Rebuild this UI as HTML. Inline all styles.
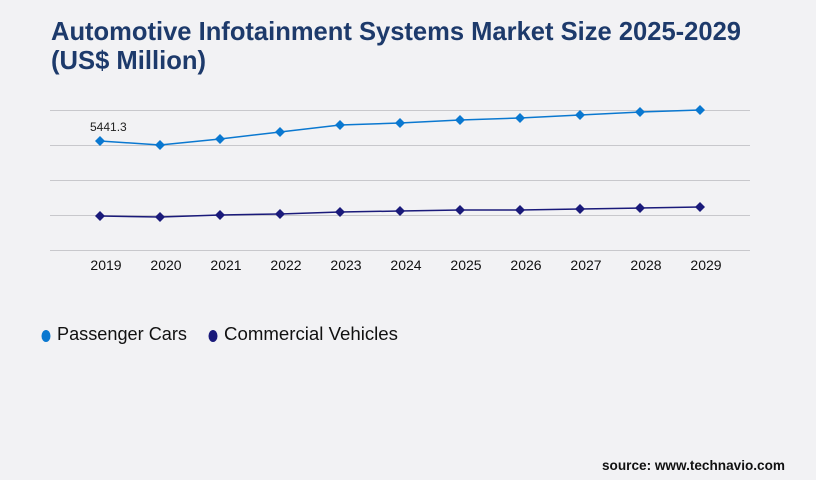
<!DOCTYPE html>
<html><head><meta charset="utf-8"><style>
html,body{margin:0;padding:0;background:#f2f2f4;}
svg{display:block;}
</style></head><body>
<svg width="816" height="480" viewBox="0 0 816 480" xmlns="http://www.w3.org/2000/svg">
<rect width="816" height="480" fill="#f2f2f4"/>
<text x="51" y="40" font-family="Liberation Sans, sans-serif" font-size="26" font-weight="bold" fill="#1d3a6b" textLength="690" lengthAdjust="spacingAndGlyphs">Automotive Infotainment Systems Market Size 2025-2029</text>
<text x="51" y="69" font-family="Liberation Sans, sans-serif" font-size="26" font-weight="bold" fill="#1d3a6b" textLength="155" lengthAdjust="spacingAndGlyphs">(US$ Million)</text>
<g stroke="#c8c8cc" stroke-width="1">
<line x1="50" y1="110.5" x2="750" y2="110.5"/>
<line x1="50" y1="145.5" x2="750" y2="145.5"/>
<line x1="50" y1="180.5" x2="750" y2="180.5"/>
<line x1="50" y1="215.5" x2="750" y2="215.5"/>
<line x1="50" y1="250.5" x2="750" y2="250.5"/>
</g>
<polyline fill="none" stroke="#0a78d0" stroke-width="1.5" points="100,141 160,145 220,139 280,132 340,125 400,123 460,120 520,118 580,115 640,112 700,110"/>
<polyline fill="none" stroke="#1a1a7a" stroke-width="1.5" points="100,216 160,217 220,215 280,214 340,212 400,211 460,210 520,210 580,209 640,208 700,207"/>
<g fill="#0a78d0">
<path d="M100,136l5,5l-5,5l-5,-5z"/><path d="M160,140l5,5l-5,5l-5,-5z"/><path d="M220,134l5,5l-5,5l-5,-5z"/><path d="M280,127l5,5l-5,5l-5,-5z"/><path d="M340,120l5,5l-5,5l-5,-5z"/><path d="M400,118l5,5l-5,5l-5,-5z"/><path d="M460,115l5,5l-5,5l-5,-5z"/><path d="M520,113l5,5l-5,5l-5,-5z"/><path d="M580,110l5,5l-5,5l-5,-5z"/><path d="M640,107l5,5l-5,5l-5,-5z"/><path d="M700,105l5,5l-5,5l-5,-5z"/>
</g>
<g fill="#1a1a7a">
<path d="M100,211l5,5l-5,5l-5,-5z"/><path d="M160,212l5,5l-5,5l-5,-5z"/><path d="M220,210l5,5l-5,5l-5,-5z"/><path d="M280,209l5,5l-5,5l-5,-5z"/><path d="M340,207l5,5l-5,5l-5,-5z"/><path d="M400,206l5,5l-5,5l-5,-5z"/><path d="M460,205l5,5l-5,5l-5,-5z"/><path d="M520,205l5,5l-5,5l-5,-5z"/><path d="M580,204l5,5l-5,5l-5,-5z"/><path d="M640,203l5,5l-5,5l-5,-5z"/><path d="M700,202l5,5l-5,5l-5,-5z"/>
</g>
<text x="90" y="131" font-family="Liberation Sans, sans-serif" font-size="12" fill="#222">5441.3</text>
<g font-family="Liberation Sans, sans-serif" font-size="14" fill="#111" text-anchor="middle">
<text x="106" y="270">2019</text><text x="166" y="270">2020</text><text x="226" y="270">2021</text><text x="286" y="270">2022</text><text x="346" y="270">2023</text><text x="406" y="270">2024</text><text x="466" y="270">2025</text><text x="526" y="270">2026</text><text x="586" y="270">2027</text><text x="646" y="270">2028</text><text x="706" y="270">2029</text>
</g>
<ellipse cx="46" cy="336" rx="4.5" ry="6" fill="#0a78d0"/>
<text x="57" y="340" font-family="Liberation Sans, sans-serif" font-size="18" fill="#111" textLength="130" lengthAdjust="spacingAndGlyphs">Passenger Cars</text>
<ellipse cx="213" cy="336" rx="4.5" ry="6" fill="#1a1a7a"/>
<text x="224" y="340" font-family="Liberation Sans, sans-serif" font-size="18" fill="#111" textLength="174" lengthAdjust="spacingAndGlyphs">Commercial Vehicles</text>
<text x="602" y="470" font-family="Liberation Sans, sans-serif" font-size="14" font-weight="bold" fill="#111" textLength="183" lengthAdjust="spacingAndGlyphs">source: www.technavio.com</text>
</svg>
</body></html>
